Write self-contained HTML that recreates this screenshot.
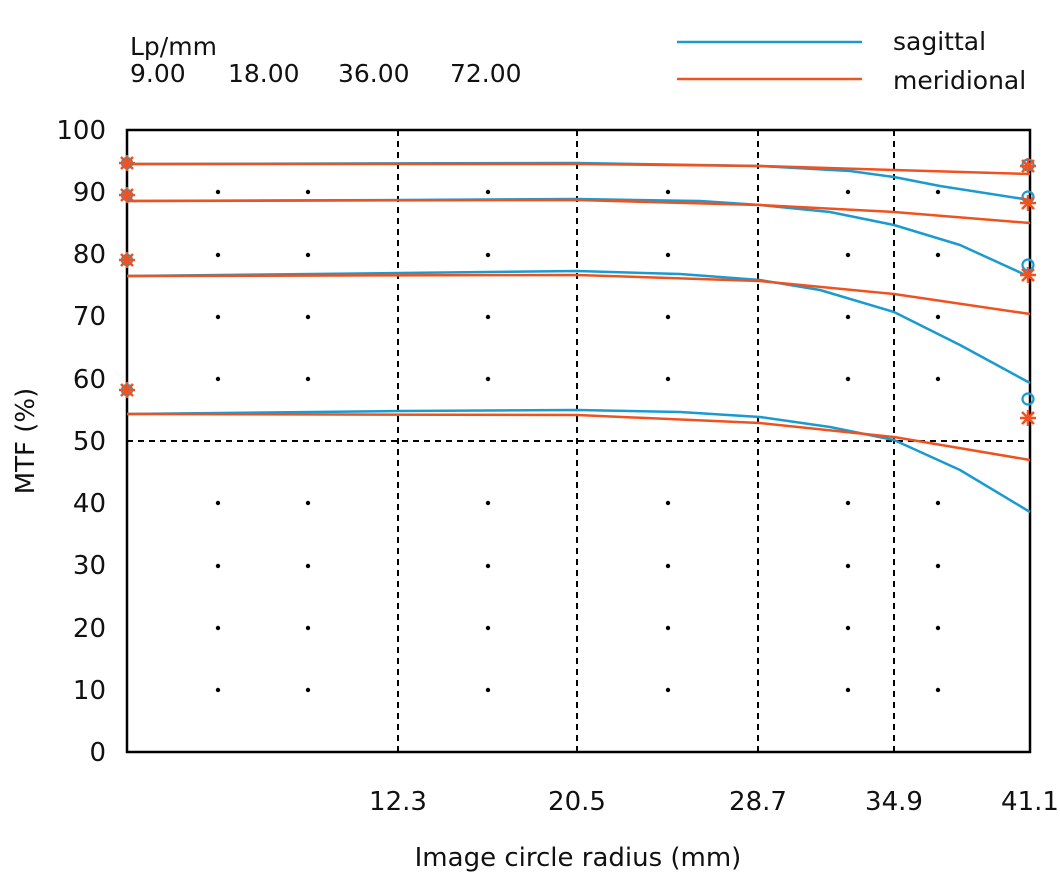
<!DOCTYPE html>
<html><head><meta charset="utf-8"><style>body{margin:0;background:#fff}svg{display:block}text{font-family:"DejaVu Sans","Liberation Sans",sans-serif;fill:#111}</style></head><body>
<svg width="1060" height="881" viewBox="0 0 1060 881">
<g font-size="25">
<text x="130" y="55">Lp/mm</text>
<text x="130" y="82">9.00</text><text x="228" y="82">18.00</text><text x="338" y="82">36.00</text><text x="450" y="82">72.00</text>
<text x="893" y="50">sagittal</text><text x="893" y="89">meridional</text>
</g>
<line x1="677" y1="42" x2="862" y2="42" stroke="#1a9bd0" stroke-width="2.5"/>
<line x1="677" y1="79" x2="862" y2="79" stroke="#f0521f" stroke-width="2.5"/>
<g font-size="26" text-anchor="end">
<text x="106" y="139">100</text><text x="106" y="201">90</text><text x="106" y="263">80</text><text x="106" y="325">70</text><text x="106" y="388">60</text><text x="106" y="450">50</text><text x="106" y="512">40</text><text x="106" y="574">30</text><text x="106" y="637">20</text><text x="106" y="699">10</text><text x="106" y="761">0</text>
</g>
<g font-size="26" text-anchor="middle">
<text x="398" y="810">12.3</text><text x="577" y="810">20.5</text><text x="758" y="810">28.7</text><text x="894" y="810">34.9</text><text x="1030" y="810">41.1</text>
<text x="578" y="866">Image circle radius (mm)</text>
</g>
<text font-size="26" transform="translate(34,441) rotate(-90)" text-anchor="middle">MTF (%)</text>
<g stroke="#000" stroke-width="2" stroke-dasharray="6,5">
<line x1="398" y1="130" x2="398" y2="752"/><line x1="577" y1="130" x2="577" y2="752"/><line x1="758" y1="130" x2="758" y2="752"/><line x1="894" y1="130" x2="894" y2="752"/>
<line x1="127" y1="441" x2="1030" y2="441"/>
</g>
<g fill="#000">
<circle cx="218" cy="192" r="2.2"/><circle cx="308" cy="192" r="2.2"/><circle cx="488" cy="192" r="2.2"/><circle cx="668" cy="192" r="2.2"/><circle cx="848" cy="192" r="2.2"/><circle cx="938" cy="192" r="2.2"/>
<circle cx="218" cy="255" r="2.2"/><circle cx="308" cy="255" r="2.2"/><circle cx="488" cy="255" r="2.2"/><circle cx="668" cy="255" r="2.2"/><circle cx="848" cy="255" r="2.2"/><circle cx="938" cy="255" r="2.2"/>
<circle cx="218" cy="317" r="2.2"/><circle cx="308" cy="317" r="2.2"/><circle cx="488" cy="317" r="2.2"/><circle cx="668" cy="317" r="2.2"/><circle cx="848" cy="317" r="2.2"/><circle cx="938" cy="317" r="2.2"/>
<circle cx="218" cy="379" r="2.2"/><circle cx="308" cy="379" r="2.2"/><circle cx="488" cy="379" r="2.2"/><circle cx="668" cy="379" r="2.2"/><circle cx="848" cy="379" r="2.2"/><circle cx="938" cy="379" r="2.2"/>
<circle cx="218" cy="503" r="2.2"/><circle cx="308" cy="503" r="2.2"/><circle cx="488" cy="503" r="2.2"/><circle cx="668" cy="503" r="2.2"/><circle cx="848" cy="503" r="2.2"/><circle cx="938" cy="503" r="2.2"/>
<circle cx="218" cy="566" r="2.2"/><circle cx="308" cy="566" r="2.2"/><circle cx="488" cy="566" r="2.2"/><circle cx="668" cy="566" r="2.2"/><circle cx="848" cy="566" r="2.2"/><circle cx="938" cy="566" r="2.2"/>
<circle cx="218" cy="628" r="2.2"/><circle cx="308" cy="628" r="2.2"/><circle cx="488" cy="628" r="2.2"/><circle cx="668" cy="628" r="2.2"/><circle cx="848" cy="628" r="2.2"/><circle cx="938" cy="628" r="2.2"/>
<circle cx="218" cy="690" r="2.2"/><circle cx="308" cy="690" r="2.2"/><circle cx="488" cy="690" r="2.2"/><circle cx="668" cy="690" r="2.2"/><circle cx="848" cy="690" r="2.2"/><circle cx="938" cy="690" r="2.2"/>
</g>
<rect x="127" y="130" width="903" height="622" fill="none" stroke="#000" stroke-width="2.5"/>
<g fill="none" stroke-width="2.5" stroke-linejoin="round">
<path stroke="#1a9bd0" d="M127,164 L577,163 L760,166 L850,171 L894,177 L940,186 L1030,200"/>
<path stroke="#1a9bd0" d="M127,201 L400,200 L577,199 L700,201 L760,205 L830,212 L894,225 L960,245 L1030,277"/>
<path stroke="#1a9bd0" d="M127,276 L400,273 L577,271 L680,274 L760,280 L820,290 L894,312 L960,345 L1030,383"/>
<path stroke="#1a9bd0" d="M127,414 L400,411 L577,410 L680,412 L760,417 L830,427 L894,440 L960,470 L1030,512"/>
<path stroke="#f0521f" d="M127,164 L577,164 L760,166 L894,170 L1030,174"/>
<path stroke="#f0521f" d="M127,201 L577,200 L760,205 L894,212 L1030,223"/>
<path stroke="#f0521f" d="M127,276 L577,275 L760,281 L894,294 L1030,314"/>
<path stroke="#f0521f" d="M127,414 L577,415 L760,423 L894,437 L1030,460"/>
</g>
<g fill="none" stroke="#1a9bd0" stroke-width="2.2">
<circle cx="1028" cy="165" r="5.5"/><circle cx="1028" cy="197" r="5.5"/><circle cx="1028" cy="265" r="5.5"/><circle cx="1028" cy="399" r="5.5"/>
<circle cx="127" cy="163" r="5"/><circle cx="127" cy="195" r="5"/><circle cx="127" cy="260" r="5"/><circle cx="127" cy="390" r="5"/>
</g>
<g stroke="#f0521f" stroke-width="2.5">
<path d="M1020,166h16M1028,158v16M1022,160l12,12M1034,160l-12,12"/>
<path d="M1020,203h16M1028,195v16M1022,197l12,12M1034,197l-12,12"/>
<path d="M1020,275h16M1028,267v16M1022,269l12,12M1034,269l-12,12"/>
<path d="M1020,418h16M1028,410v16M1022,412l12,12M1034,412l-12,12"/>
<path d="M119,163h16M127,155v16M121,157l12,12M133,157l-12,12"/>
<path d="M119,195h16M127,187v16M121,189l12,12M133,189l-12,12"/>
<path d="M119,260h16M127,252v16M121,254l12,12M133,254l-12,12"/>
<path d="M119,390h16M127,382v16M121,384l12,12M133,384l-12,12"/>
</g>
</svg>
</body></html>
